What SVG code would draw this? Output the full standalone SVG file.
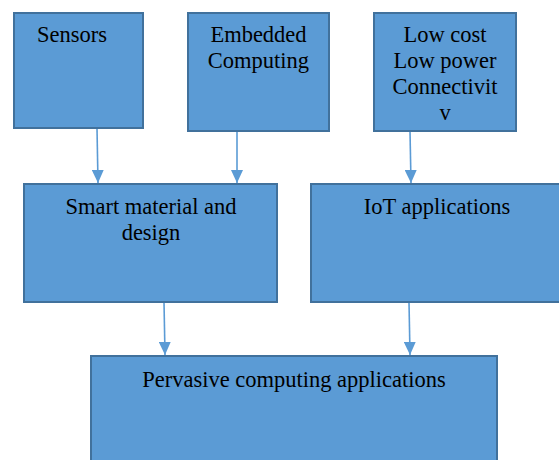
<svg xmlns="http://www.w3.org/2000/svg" width="559" height="460" viewBox="0 0 559 460">
<style>
.box{fill:#5B9BD5;stroke:#41719C;stroke-width:2}
.t{font-family:"Liberation Serif","Times New Roman",serif;font-size:22.5px;fill:#000;text-anchor:middle}
.c{stroke:#5B9BD5;stroke-width:1.6;fill:none;marker-end:url(#ah)}
</style>
<defs>
<marker id="ah" markerUnits="userSpaceOnUse" markerWidth="14" markerHeight="12" refX="13" refY="6" orient="auto">
<path d="M0,0 L13,6 L0,12 z" fill="#5B9BD5"/>
</marker>
</defs>
<rect width="559" height="460" fill="#fff"/>
<g id="connectors">
<line class="c" x1="97" y1="128" x2="98" y2="183"/>
<line class="c" x1="237" y1="131" x2="237" y2="183"/>
<line class="c" x1="410" y1="131" x2="411" y2="183"/>
<line class="c" x1="164" y1="302" x2="165" y2="355"/>
<line class="c" x1="409" y1="302" x2="410" y2="355"/>
</g>
<g id="sensors">
<rect class="box" x="14" y="13" width="129" height="115"/>
<text class="t" x="72" y="42">Sensors</text>
</g>
<g id="embedded">
<rect class="box" x="188" y="13" width="141" height="118"/>
<text class="t" x="258.5" y="42">Embedded</text>
<text class="t" x="258.5" y="68">Computing</text>
</g>
<g id="lowcost">
<rect class="box" x="374" y="13" width="142" height="118"/>
<text class="t" x="445" y="42">Low cost</text>
<text class="t" x="445" y="68">Low power</text>
<text class="t" x="445" y="94">Connectivit</text>
<text class="t" x="445" y="120">v</text>
</g>
<g id="smart">
<rect class="box" x="24" y="184" width="253" height="118"/>
<text class="t" x="151" y="214">Smart material and</text>
<text class="t" x="151" y="240">design</text>
</g>
<g id="iot">
<rect class="box" x="311" y="184" width="260" height="118"/>
<text class="t" x="437" y="214">IoT applications</text>
</g>
<g id="pervasive">
<rect class="box" x="91" y="356" width="406" height="120"/>
<text class="t" x="294" y="387">Pervasive computing applications</text>
</g>
</svg>
